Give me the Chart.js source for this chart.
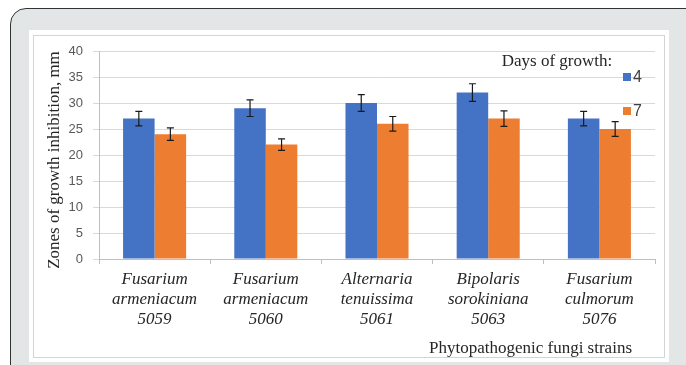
<!DOCTYPE html>
<html>
<head>
<meta charset="utf-8">
<script src="https://cdn.jsdelivr.net/npm/chart.js@4.4.1/dist/chart.umd.min.js"></script>
<style>
  html, body { margin: 0; padding: 0; background: #ffffff; width: 686px; height: 365px; overflow: hidden; }
  #panel { position: absolute; left: 10px; top: 8px; width: 720px; height: 400px; background: #e3e6e6; border: 1.5px solid #333; border-radius: 16px; box-sizing: border-box; }
  #box { position: absolute; left: 29px; top: 30px; width: 640px; height: 332px; background: #ffffff; }
  #inner { position: absolute; left: 33px; top: 35px; width: 632px; height: 323px; border: 1px solid #d4d4d4; box-sizing: border-box; }
  #c { position: absolute; left: 0; top: 0; }
</style>
</head>
<body>
<div id="panel"></div>
<div id="box"></div>
<div id="inner"></div>
<canvas id="c" width="686" height="365"></canvas>
<script>
const categories = [
  ["Fusarium", "armeniacum", "5059"],
  ["Fusarium", "armeniacum", "5060"],
  ["Alternaria", "tenuissima", "5061"],
  ["Bipolaris", "sorokiniana", "5063"],
  ["Fusarium", "culmorum", "5076"]
];
const seriesNames = ["4", "7"];
const day4 = [27, 29, 30, 32, 27];
const day7 = [24, 22, 26, 27, 25];
const day4Err = [1.4, 1.6, 1.6, 1.7, 1.4];
const day7Err = [1.2, 1.1, 1.4, 1.5, 1.4];
const yTicksMin = 0, yTicksMax = 40, yStep = 5;
const yTitle = "Zones of growth inhibition, mm";
const xTitle = "Phytopathogenic fungi strains";
const legendTitle = "Days of growth:";

const serif = "'Liberation Serif', 'DejaVu Serif', serif";
const sans = "'Liberation Sans', Arial, sans-serif";

const errorBars = {
  id: 'errorBars',
  afterDatasetsDraw(chart) {
    const ctx = chart.ctx;
    const y = chart.scales.y;
    chart.data.datasets.forEach((ds, i) => {
      const meta = chart.getDatasetMeta(i);
      meta.data.forEach((bar, j) => {
        const v = ds.data[j], e = ds.errors[j];
        const yt = y.getPixelForValue(v + e), yb = y.getPixelForValue(v - e);
        ctx.save();
        ctx.strokeStyle = '#1a1a1a';
        ctx.lineWidth = 1.2;
        ctx.beginPath();
        ctx.moveTo(bar.x, yt); ctx.lineTo(bar.x, yb);
        ctx.moveTo(bar.x - 3.5, yt); ctx.lineTo(bar.x + 3.5, yt);
        ctx.moveTo(bar.x - 3.5, yb); ctx.lineTo(bar.x + 3.5, yb);
        ctx.stroke();
        ctx.restore();
      });
    });
  }
};

const customLegend = {
  id: 'customLegend',
  afterDraw(chart) {
    const ctx = chart.ctx;
    ctx.save();
    ctx.fillStyle = '#262626';
    ctx.font = "17px " + serif;
    ctx.textAlign = 'center';
    ctx.textBaseline = 'middle';
    ctx.fillText(legendTitle, 557, 62);
    const rows = [77, 111];
    chart.data.datasets.forEach((ds, i) => {
      ctx.fillStyle = ds.backgroundColor;
      ctx.fillRect(623, rows[i] - 4, 8, 8);
      ctx.fillStyle = '#404040';
      ctx.font = "16px " + sans;
      ctx.textAlign = 'left';
      ctx.fillText(ds.label, 633, rows[i] + 1);
    });
    ctx.fillStyle = '#262626';
    ctx.font = "17px " + serif;
    ctx.textAlign = 'right';
    ctx.fillText(xTitle, 632, 349);
    // y axis title
    ctx.save();
    ctx.translate(55, 160);
    ctx.rotate(-Math.PI / 2);
    ctx.textAlign = 'center';
    ctx.fillText(yTitle, 0, 0);
    ctx.restore();
    ctx.restore();
  }
};

new Chart(document.getElementById('c'), {
  type: 'bar',
  data: {
    labels: categories,
    datasets: [
      { label: seriesNames[0], data: day4, errors: day4Err, backgroundColor: '#4472C4' },
      { label: seriesNames[1], data: day7, errors: day7Err, backgroundColor: '#ED7D31' }
    ]
  },
  options: {
    responsive: false,
    animation: false,
    devicePixelRatio: 1,
    layout: { padding: { left: 0, top: 51, right: 31, bottom: 0 } },
    categoryPercentage: 0.567,
    barPercentage: 1.0,
    plugins: { legend: { display: false }, tooltip: { enabled: false } },
    scales: {
      x: {
        grid: { display: true, drawOnChartArea: false, drawTicks: true, tickLength: 5, color: '#bfbfbf', offset: true },
        border: { display: true, color: '#bfbfbf' },
        ticks: { padding: 5, color: '#262626', font: { family: serif, size: 17, style: 'italic', lineHeight: 1.2 }, maxRotation: 0, autoSkip: false },
        afterFit(scale) { scale.height = 106; }
      },
      y: {
        min: yTicksMin, max: yTicksMax,
        grid: { color: '#d9d9d9', tickLength: 6 },
        border: { display: true, color: '#bfbfbf' },
        ticks: { stepSize: yStep, padding: 10, color: '#595959', font: { family: sans, size: 13 } },
        afterFit(scale) { scale.width = 99; }
      }
    }
  },
  plugins: [errorBars, customLegend]
});
</script>
</body>
</html>
